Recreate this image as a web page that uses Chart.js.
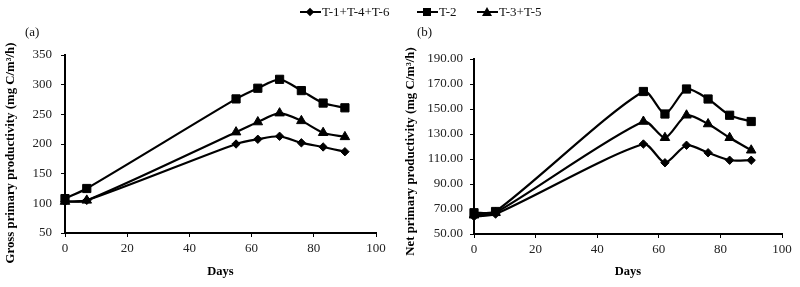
<!DOCTYPE html>
<html>
<head>
<meta charset="utf-8">
<script src="https://cdn.jsdelivr.net/npm/chart.js@4/dist/chart.umd.min.js"></script>
<style>
  html, body { margin: 0; padding: 0; background: #fff; }
  body { width: 800px; height: 287px; position: relative; overflow: hidden; font-family: "Liberation Serif", "Times New Roman", serif; }
  canvas { position: absolute; top: 0; }
  #cA { left: 0; }
  #cB { left: 400px; }
  .lbl { position: absolute; font-size: 13px; color: #111; line-height: 14px; }
  .leg { position: absolute; top: 5px; height: 14px; font-size: 13px; line-height: 14px; color: #111; white-space: nowrap; }
  .leg .ln { position: absolute; left: 0; top: 6px; width: 21px; height: 2px; background: #000; }
  .leg .tx { position: absolute; left: 22px; top: 0; }
  .mk { position: absolute; background: #000; }
  .dia { width: 6px; height: 6px; left: 7px; top: 4px; transform: rotate(45deg); }
  .sq { width: 8px; height: 8px; left: 6px; top: 3px; }
  .tri { width: 0; height: 0; background: none; left: 5px; top: 2px; border-left: 5px solid transparent; border-right: 5px solid transparent; border-bottom: 9px solid #000; }
</style>
</head>
<body>
<canvas id="cA" width="400" height="287"></canvas>
<canvas id="cB" width="400" height="287"></canvas>
<div class="lbl" style="left:25px; top:25px;">(a)</div>
<div class="lbl" style="left:417px; top:25px;">(b)</div>
<div class="leg" style="left:300px;"><div class="ln"></div><div class="mk dia"></div><div class="tx">T-1+T-4+T-6</div></div>
<div class="leg" style="left:417px;"><div class="ln"></div><div class="mk sq"></div><div class="tx">T-2</div></div>
<div class="leg" style="left:477px;"><div class="ln"></div><div class="mk tri"></div><div class="tx">T-3+T-5</div></div>
<script>
// ---- data ----
const days = [0, 7, 55, 62, 69, 76, 83, 90];
const seriesNames = ['T-1+T-4+T-6', 'T-2', 'T-3+T-5'];
const gppT146 = [103, 105, 200, 208, 213, 202, 195, 187];
const gppT2   = [108, 125, 276, 294, 309, 290, 269, 261];
const gppT35  = [103, 105, 220, 237, 252, 239, 219, 212];
const nppT146 = [64, 66, 122, 107, 121, 115, 109, 109];
const nppT2   = [67, 68, 164, 146, 166, 158, 145, 140];
const nppT35  = [65, 67, 140, 127, 145, 138, 127, 117];
const xTicks = [0, 20, 40, 60, 80, 100];
const gppTicks = [50, 100, 150, 200, 250, 300, 350];
const nppTicks = [50, 70, 90, 110, 130, 150, 170, 190];

const FONT = "'Liberation Serif', 'Times New Roman', serif";
const styles = [
  { pointStyle: 'rectRot', pointRadius: 4.2 },
  { pointStyle: 'rect', pointRadius: 5.8 },
  { pointStyle: 'triangle', pointRadius: 5.5 }
];

function makeDatasets(arrs) {
  return arrs.map((vals, i) => ({
    label: seriesNames[i],
    data: days.map((d, j) => ({ x: d, y: vals[j] })),
    borderColor: '#000',
    backgroundColor: '#000',
    borderWidth: 2.2,
    tension: 0.25,
    pointStyle: styles[i].pointStyle,
    pointRadius: styles[i].pointRadius,
    pointBorderWidth: 1,
    pointBackgroundColor: '#000',
    pointBorderColor: '#000',
    clip: false
  }));
}

// draws the vertical y-axis title at a chosen centre
const yTitlePlugin = {
  id: 'yTitle',
  afterDraw(chart, args, opts) {
    const ctx = chart.ctx;
    ctx.save();
    ctx.translate(opts.x, opts.y);
    ctx.rotate(-Math.PI / 2);
    ctx.font = 'bold ' + opts.size + 'px ' + FONT;
    ctx.fillStyle = '#000';
    ctx.textAlign = 'center';
    ctx.textBaseline = 'middle';
    ctx.fillText(opts.text, 0, 0);
    ctx.restore();
  }
};

function makeChart(id, arrs, yTicks, fmt, yTitle, titlePos, yW, xH, padR, padT, tickPad) {
  const yMin = yTicks[0], yMax = yTicks[yTicks.length - 1];
  return new Chart(document.getElementById(id), {
    type: 'line',
    data: { datasets: makeDatasets(arrs) },
    plugins: [yTitlePlugin],
    options: {
      responsive: false,
      animation: false,
      layout: { padding: { top: padT, right: padR, left: 0, bottom: 0 } },
      plugins: {
        legend: { display: false },
        tooltip: { enabled: false },
        yTitle: { text: yTitle, x: titlePos[0], y: titlePos[1], size: 12.8 }
      },
      scales: {
        x: {
          type: 'linear',
          min: xTicks[0], max: xTicks[xTicks.length - 1],
          afterFit: s => { s.height = xH; },
          afterBuildTicks: s => { s.ticks = xTicks.map(v => ({ value: v })); },
          ticks: { font: { family: FONT, size: 13 }, color: '#222', padding: 4, maxRotation: 0 },
          grid: { drawOnChartArea: false, drawTicks: true, tickLength: 4, color: '#000', lineWidth: 1 },
          border: { color: '#000', width: 2 },
          title: { display: true, text: 'Days', font: { family: FONT, size: 12.5, weight: 'bold' }, color: '#000', padding: { top: 0, bottom: 8 } }
        },
        y: {
          min: yMin, max: yMax,
          afterFit: s => { s.width = yW; },
          afterBuildTicks: s => { s.ticks = yTicks.map(v => ({ value: v })); },
          ticks: { font: { family: FONT, size: 13 }, color: '#222', padding: tickPad, callback: v => fmt(v) },
          grid: { drawOnChartArea: false, drawTicks: true, tickLength: 4, color: '#000', lineWidth: 1 },
          border: { color: '#000', width: 2 },
          title: { display: false }
        }
      }
    }
  });
}

makeChart('cA', [gppT146, gppT2, gppT35], gppTicks, v => String(v),
  'Gross primary productivity (mg C/m\u00B3/h)', [11, 153], 65, 54, 24, 55, 9);
makeChart('cB', [nppT146, nppT2, nppT35], nppTicks, v => v.toFixed(2),
  'Net primary productivity (mg C/m\u00B3/h)', [11, 151.5], 74, 53, 18, 59, 7);
</script>
</body>
</html>
